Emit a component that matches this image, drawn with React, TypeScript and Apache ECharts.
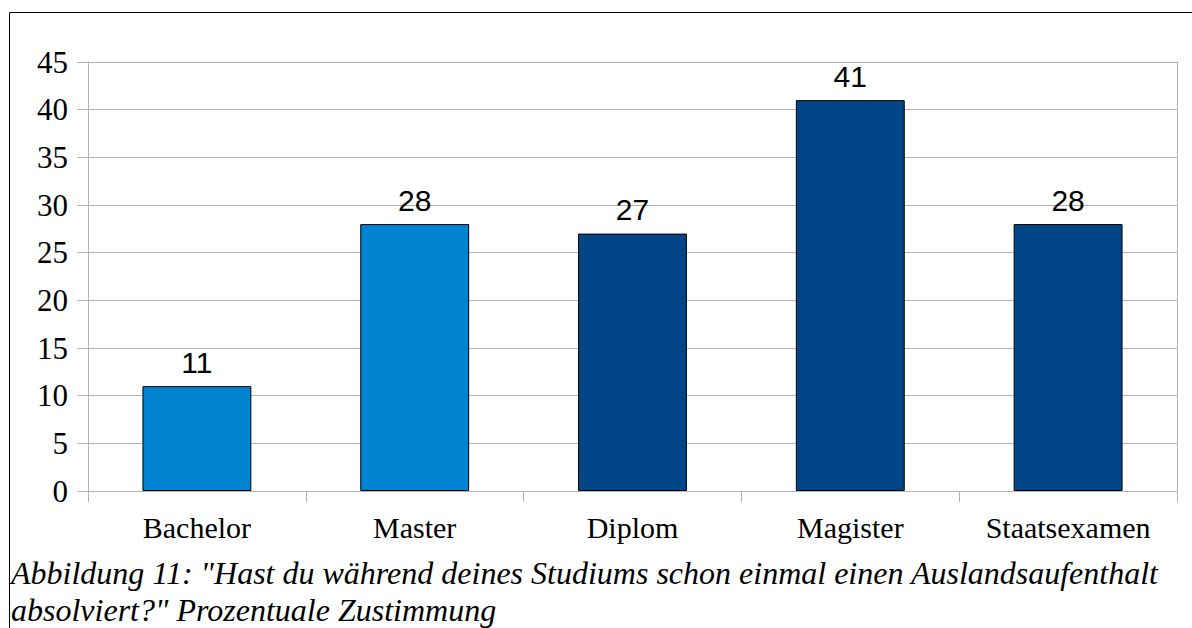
import React, { useEffect, useRef } from "react";
import * as echarts from "echarts";

const categories = ["Bachelor", "Master", "Diplom", "Magister", "Staatsexamen"];
const values = [11, 28, 27, 41, 28];
const barColors = ["#0084d1", "#0084d1", "#004586", "#004586", "#004586"];
const yTicks = { min: 0, max: 45, interval: 5 };
const captionLines = [
  'Abbildung 11: "Hast du während deines Studiums schon einmal einen Auslandsaufenthalt',
  'absolviert?" Prozentuale Zustimmung',
];

const SERIF = "Liberation Serif";

export default function App() {
  const ref = useRef<HTMLDivElement>(null);
  useEffect(() => {
    document.body.style.margin = "0";
    const chart = echarts.init(ref.current!, null, { renderer: "svg" });
    const grey = "#b3b3b3";
    chart.setOption({
      animation: false,
      backgroundColor: "#ffffff",
      grid: { left: 88, top: 62, right: 15, bottom: 137, containLabel: false },
      xAxis: {
        type: "category",
        data: categories,
        axisLine: { show: true, lineStyle: { color: grey, width: 1 } },
        axisTick: { show: true, length: 11, lineStyle: { color: grey } },
        axisLabel: {
          color: "#000",
          fontFamily: SERIF,
          fontSize: 30,
          margin: 21,
        },
      },
      yAxis: [
        {
          type: "value",
          min: yTicks.min,
          max: yTicks.max,
          interval: yTicks.interval,
          axisLine: { show: true, lineStyle: { color: grey, width: 1 } },
          axisTick: { show: true, length: 11, lineStyle: { color: grey } },
          splitLine: { show: true, lineStyle: { color: grey, width: 1 } },
          axisLabel: {
            color: "#000",
            fontFamily: SERIF,
            fontSize: 31,
            margin: 20,
          },
        },
        {
          type: "value",
          position: "right",
          min: yTicks.min,
          max: yTicks.max,
          interval: yTicks.interval,
          axisLine: { show: true, lineStyle: { color: grey, width: 1 } },
          axisTick: { show: false },
          axisLabel: { show: false },
          splitLine: { show: false },
        },
      ],
      series: [
        {
          type: "bar",
          barCategoryGap: "50%",
          data: values.map((v, i) => ({
            value: v,
            itemStyle: { color: barColors[i], borderColor: "#000", borderWidth: 1 },
          })),
          label: {
            show: true,
            position: "top",
            distance: 9,
            color: "#000",
            fontFamily: "Liberation Sans",
            fontSize: 30,
          },
        },
      ],
      graphic: [
        {
          type: "line",
          shape: { x1: 9.5, y1: 12.5, x2: 1192, y2: 12.5 },
          style: { stroke: "#000", lineWidth: 1 },
        },
        {
          type: "line",
          shape: { x1: 9.5, y1: 12.5, x2: 9.5, y2: 628 },
          style: { stroke: "#000", lineWidth: 1 },
        },
        {
          type: "text",
          left: 11,
          top: 557,
          style: {
            text: captionLines[0],
            fontFamily: SERIF,
            fontStyle: "italic",
            fontSize: 32,
            fill: "#000",
          },
        },
        {
          type: "text",
          left: 11,
          top: 594,
          style: {
            text: captionLines[1],
            fontFamily: SERIF,
            fontStyle: "italic",
            fontSize: 32,
            fill: "#000",
          },
        },
      ],
    });
    return () => chart.dispose();
  }, []);
  return <div ref={ref} style={{ position: "fixed", left: 0, top: 0, width: 1192, height: 628 }} />;
}
